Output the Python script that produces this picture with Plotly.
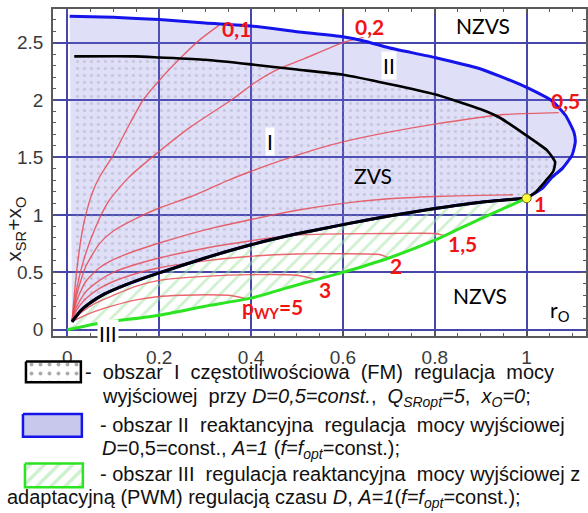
import plotly.graph_objects as go

W, H = 588, 513

# ---- axes -------------------------------------------------------------
x_range = [-0.0315, 1.1293]
y_range = [-0.0517, 2.793]
x_ticks = [0, 0.2, 0.4, 0.6, 0.8, 1]
x_tick_text = ["0", "0.2", "0.4", "0.6", "0.8", "1"]
y_ticks = [0, 0.5, 1, 1.5, 2, 2.5]
y_tick_text = ["0", "0.5", "1", "1.5", "2", "2.5"]

# ---- region boundaries -------------------------------------------------
# outer boundary of region II (blue)
blue_x = [0.005, 0.1, 0.2, 0.3, 0.4, 0.5, 0.6, 0.65, 0.7, 0.8, 0.9, 0.94, 1.0,
          1.056, 1.085, 1.103, 1.106, 1.099, 1.078, 1.056, 1.034, 1.0]
blue_y = [2.73, 2.72, 2.70, 2.67, 2.645, 2.595, 2.55, 2.51, 2.455, 2.37, 2.27, 2.21, 2.11,
          1.99, 1.865, 1.72, 1.635, 1.52, 1.405, 1.33, 1.23, 1.145]

# upper boundary of region I (black)
black_up_x = [0.015, 0.147, 0.2, 0.3, 0.4, 0.5, 0.6, 0.7, 0.8, 0.9, 0.94, 1.0,
              1.045, 1.062, 1.058, 1.04, 1.02, 1.0]
black_up_y = [2.38, 2.38, 2.37, 2.35, 2.31, 2.265, 2.22, 2.14, 2.05, 1.92, 1.85, 1.69,
              1.56, 1.46, 1.38, 1.29, 1.20, 1.145]

# lower boundary of regions I/II (black)
black_lo_x = [0.01, 0.03, 0.05, 0.08, 0.12, 0.16, 0.2, 0.3, 0.4, 0.5, 0.6, 0.7, 0.8, 0.9, 1.0]
black_lo_y = [0.07, 0.17, 0.235, 0.31, 0.38, 0.44, 0.495, 0.625, 0.74, 0.835, 0.915,
              0.99, 1.055, 1.11, 1.145]

# lower boundary of region III (green)
green_x = [0.0, 0.067, 0.2, 0.3, 0.4, 0.5, 0.6, 0.7, 0.8, 0.85, 0.904, 1.0]
green_y = [0.0, 0.055, 0.127, 0.205, 0.275, 0.39, 0.5, 0.625, 0.78, 0.873, 0.974, 1.145]

# optimum point
opt_x = [1.0]
opt_y = [1.145]

# ---- constant output power curves p_WY ---------------------------------
pwy_01_x = [0.01, 0.015, 0.02, 0.03, 0.04, 0.055, 0.07, 0.1, 0.13, 0.165, 0.2, 0.25, 0.29, 0.33]
pwy_01_y = [0.07, 0.3, 0.5, 0.8, 1.0, 1.2, 1.33, 1.52, 1.75, 2.0, 2.17, 2.38, 2.53, 2.65]

pwy_02_x = [0.01, 0.02, 0.035, 0.06, 0.09, 0.132, 0.19, 0.27, 0.357, 0.408, 0.46, 0.516, 0.6, 0.645]
pwy_02_y = [0.07, 0.35, 0.6, 0.88, 1.12, 1.32, 1.52, 1.77, 2.0, 2.15, 2.27, 2.36, 2.5, 2.545]

pwy_05_x = [0.01, 0.02, 0.04, 0.07, 0.1, 0.15, 0.2, 0.27, 0.35, 0.4, 0.516, 0.6, 0.7, 0.8, 0.94, 1.07]
pwy_05_y = [0.07, 0.3, 0.55, 0.75, 0.86, 0.97, 1.06, 1.16, 1.3, 1.38, 1.54, 1.635, 1.72, 1.79, 1.87, 1.89]

pwy_1_x = [0.01, 0.02, 0.04, 0.07, 0.1, 0.15, 0.2, 0.3, 0.4, 0.5, 0.6, 0.7, 0.8, 0.9, 0.97]
pwy_1_y = [0.07, 0.25, 0.42, 0.54, 0.61, 0.69, 0.755, 0.87, 0.96, 1.04, 1.1, 1.14, 1.16, 1.17, 1.175]

pwy_15_x = [0.01, 0.02, 0.04, 0.07, 0.1, 0.15, 0.2, 0.3, 0.4, 0.5, 0.6, 0.7, 0.8, 0.825]
pwy_15_y = [0.07, 0.2, 0.33, 0.43, 0.5, 0.57, 0.625, 0.71, 0.775, 0.825, 0.835, 0.838, 0.838, 0.815]

pwy_2_x = [0.01, 0.02, 0.04, 0.07, 0.1, 0.15, 0.2, 0.3, 0.4, 0.5, 0.6, 0.68, 0.70]
pwy_2_y = [0.07, 0.17, 0.27, 0.36, 0.42, 0.49, 0.54, 0.6, 0.64, 0.66, 0.662, 0.655, 0.625]

pwy_3_x = [0.01, 0.03, 0.06, 0.1, 0.15, 0.2, 0.3, 0.4, 0.5, 0.54]
pwy_3_y = [0.07, 0.15, 0.23, 0.3, 0.38, 0.43, 0.465, 0.48, 0.475, 0.44]

pwy_5_x = [0.01, 0.03, 0.06, 0.1, 0.15, 0.2, 0.25, 0.3, 0.35, 0.39]
pwy_5_y = [0.07, 0.11, 0.16, 0.21, 0.26, 0.29, 0.3, 0.305, 0.3, 0.27]

pwy_curves = [(pwy_01_x, pwy_01_y), (pwy_02_x, pwy_02_y), (pwy_05_x, pwy_05_y),
              (pwy_1_x, pwy_1_y), (pwy_15_x, pwy_15_y), (pwy_2_x, pwy_2_y),
              (pwy_3_x, pwy_3_y), (pwy_5_x, pwy_5_y)]

# curve labels and their anchor points
pwy_labels = ["0,1", "0,2", "0,5", "1", "1,5", "2", "3", "p<sub>WY</sub>=5"]
pwy_label_x = [0.368, 0.657, 1.085, 1.03, 0.86, 0.716, 0.56, 0.446]
pwy_label_y = [2.62, 2.64, 2.0, 1.095, 0.754, 0.56, 0.35, 0.19]

# region names
region_text = ["NZVS", "ZVS", "NZVS", "r<sub>O</sub>"]
region_x = [0.905, 0.666, 0.898, 1.073]
region_y = [2.65, 1.34, 0.30, 0.165]
boxed_text = ["I", "II", "III"]
boxed_x = [0.441, 0.70, 0.088]
boxed_y = [1.635, 2.30, -0.034]

# legend lines (the justified lines carry a few extra spaces)
S = "&nbsp;"
legend_lines = [
    "-" + S + " obszar" + S + " I" + S + " częstotliwościowa" + S + " (FM)" + S + " regulacja" + S + " mocy",
    "wyjściowej" + S + " przy <i>D=0,5=const.</i>," + S + " <i>Q<sub>SRopt</sub>=5</i>," + S + " <i>x<sub>O</sub>=0</i>;",
    "- obszar II" + S + " reaktancyjna" + S + " regulacja" + S + " mocy wyjściowej",
    "<i>D</i>=0,5=const., <i>A=1</i> (<i>f=f<sub>opt</sub></i>=const.);",
    "- obszar III" + S + " regulacja reaktancyjna" + S + " mocy wyjściowej z",
    "adaptacyjną (PWM) regulacją czasu <i>D</i>, <i>A=1</i>(<i>f=f<sub>opt</sub></i>=const.);",
]
legend_px_x = [83, 100, 98, 100, 98, 5]
legend_px_y = [376, 401, 429, 454, 479, 503]

# ---- styles --------------------------------------------------------------
BLUE = "rgb(20,20,235)"
GREEN = "rgb(45,228,35)"
RED = "rgba(230,75,85,0.85)"
LAVENDER = "rgba(110,110,225,0.22)"
GRID = "rgb(70,70,170)"
HATCH = "rgb(160,225,160)"
DOTS = "rgba(135,135,155,0.6)"

fig = go.Figure()

# region II fill
fig.add_trace(go.Scatter(
    x=blue_x + black_lo_x[::-1] + [blue_x[0]],
    y=blue_y + black_lo_y[::-1] + [blue_y[0]],
    mode="none", fill="toself", fillcolor=LAVENDER, hoverinfo="skip"))

# region I fill (dotted)
fig.add_trace(go.Scatter(
    x=black_up_x + black_lo_x[::-1] + [black_up_x[0]],
    y=black_up_y + black_lo_y[::-1] + [black_up_y[0]],
    mode="none", fill="toself",
    fillpattern=dict(shape=".", fgcolor=DOTS, bgcolor="rgba(0,0,0,0)",
                     size=7, solidity=0.16),
    hoverinfo="skip"))

# region III fill (hatched)
fig.add_trace(go.Scatter(
    x=black_lo_x + green_x[::-1],
    y=black_lo_y + green_y[::-1],
    mode="none", fill="toself",
    fillpattern=dict(shape="/", fgcolor=HATCH, bgcolor="rgba(0,0,0,0)",
                     size=10, solidity=0.28),
    hoverinfo="skip"))

# p_WY curves
for cx, cy in pwy_curves:
    fig.add_trace(go.Scatter(x=cx, y=cy, mode="lines",
                             line=dict(color=RED, width=1.4, shape="spline", smoothing=0.6),
                             hoverinfo="skip"))

# boundaries
fig.add_trace(go.Scatter(x=blue_x + black_lo_x[::-1], y=blue_y + black_lo_y[::-1],
                         mode="lines",
                         line=dict(color=BLUE, width=3, shape="spline", smoothing=0.5)))
fig.add_trace(go.Scatter(x=black_up_x, y=black_up_y, mode="lines",
                         line=dict(color="black", width=2.6, shape="spline", smoothing=0.5)))
fig.add_trace(go.Scatter(x=black_lo_x, y=black_lo_y, mode="lines",
                         line=dict(color="black", width=3, shape="spline", smoothing=0.5)))
fig.add_trace(go.Scatter(x=green_x, y=green_y, mode="lines",
                         line=dict(color=GREEN, width=3, shape="spline", smoothing=0.5)))
fig.add_trace(go.Scatter(x=opt_x, y=opt_y, mode="markers",
                         marker=dict(color="rgb(255,250,60)", size=9,
                                     line=dict(color="rgb(120,110,20)", width=1))))

# ---- legend swatches, drawn on a full-figure overlay in pixel units -----------
def rect(x0, y0, x1, y1):
    return [x0, x1, x1, x0, x0], [y0, y0, y1, y1, y0]

rx, ry = rect(26, 365, 81, 386)
fig.add_trace(go.Scatter(x=rx, y=ry, xaxis="x2", yaxis="y2", mode="lines", fill="toself",
                         line=dict(color="black", width=2.5),
                         fillpattern=dict(shape=".", fgcolor="rgb(90,90,90)", bgcolor="white",
                                          size=9, solidity=0.15)))
rx, ry = rect(23, 418, 82, 441)
fig.add_trace(go.Scatter(x=rx, y=ry, xaxis="x2", yaxis="y2", mode="lines", fill="toself",
                         line=dict(color=BLUE, width=2.5), fillcolor="rgb(200,200,236)"))
rx, ry = rect(25, 468, 83, 492)
fig.add_trace(go.Scatter(x=rx, y=ry, xaxis="x2", yaxis="y2", mode="lines", fill="toself",
                         line=dict(color=GREEN, width=2.5),
                         fillpattern=dict(shape="/", fgcolor=HATCH, bgcolor="white",
                                          size=10, solidity=0.35)))

# ---- annotations ---------------------------------------------------------------
ann = []
for t, ax, ay in zip(pwy_labels, pwy_label_x, pwy_label_y):
    ann.append(dict(x=ax, y=ay, xref="x", yref="y", text="<b>%s</b>" % t, showarrow=False,
                    font=dict(family="Lato", size=21, color="rgb(240,20,20)")))
for t, ax, ay in zip(region_text, region_x, region_y):
    ann.append(dict(x=ax, y=ay, xref="x", yref="y", text=t, showarrow=False,
                    font=dict(family="Lato", size=21, color="black")))
for t, ax, ay in zip(boxed_text, boxed_x, boxed_y):
    ann.append(dict(x=ax, y=ay, xref="x", yref="y", text=t, showarrow=False,
                    bgcolor="white", borderpad=1,
                    font=dict(family="Lato", size=21, color="black")))
for t, px, py in zip(legend_lines, legend_px_x, legend_px_y):
    ann.append(dict(x=px / W, y=1 - py / H, xref="paper", yref="paper", text=t,
                    showarrow=False, xanchor="left", yanchor="middle",
                    font=dict(family="Liberation Sans", size=20, color="#111")))
ann.append(dict(x=0, y=1 - 232 / H, xref="paper", yref="paper", xanchor="left",
                text="x<sub>SR</sub>+x<sub>O</sub>", textangle=-90, showarrow=False,
                font=dict(family="Liberation Sans", size=21, color="#222")))

axis_common = dict(showgrid=True, gridcolor=GRID, gridwidth=1.6, zeroline=False,
                   showline=True, linecolor="rgb(90,90,90)", linewidth=1.5,
                   mirror="allticks", ticks="inside", ticklen=5, tickcolor="rgb(90,90,90)",
                   tickfont=dict(family="Liberation Sans", size=19, color="#3a3a3a"))

fig.update_layout(
    width=W, height=H, margin=dict(l=0, r=0, t=0, b=0),
    paper_bgcolor="white", plot_bgcolor="rgba(0,0,0,0)", showlegend=False,
    xaxis=dict(domain=[53 / W, 587 / W], range=x_range, tickvals=x_ticks,
               ticktext=x_tick_text, ticklabelstandoff=4,
               minor=dict(dtick=0.05, tick0=0, ticks="inside", ticklen=3,
                          tickcolor="rgb(90,90,90)", showgrid=False),
               **axis_common),
    yaxis=dict(domain=[1 - 339 / H, 1 - 9 / H], range=y_range, tickvals=y_ticks,
               ticktext=y_tick_text, ticklabelstandoff=4,
               minor=dict(dtick=0.1, tick0=0, ticks="inside", ticklen=3,
                          tickcolor="rgb(90,90,90)", showgrid=False),
               **axis_common),
    xaxis2=dict(domain=[0, 1], range=[0, W], visible=False, anchor="y2"),
    yaxis2=dict(domain=[0, 1], range=[H, 0], visible=False, anchor="x2"),
    annotations=ann,
)

fig.write_html("out.html")
